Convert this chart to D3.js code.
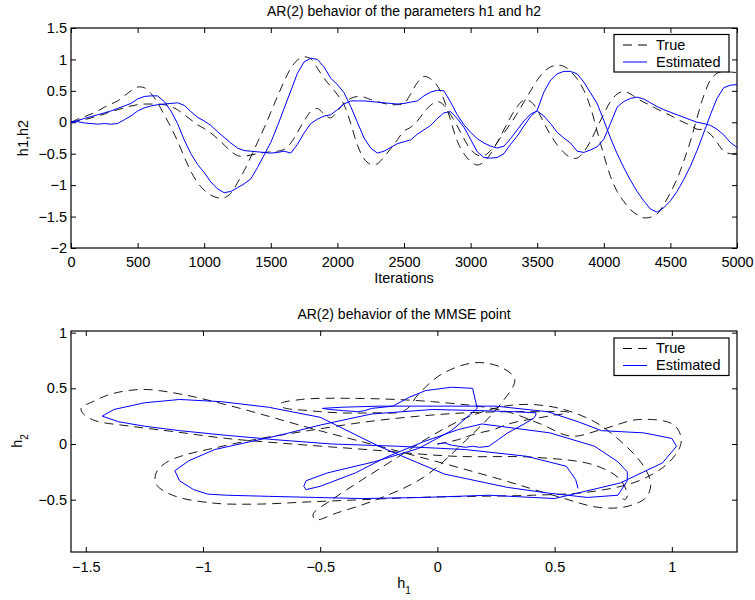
<!DOCTYPE html>
<html>
<head>
<meta charset="utf-8">
<script src="https://cdn.jsdelivr.net/npm/d3@7"></script>
<style>
body { margin: 0; background: #fff; }
text { font-family: "Liberation Sans", Arial, Helvetica, sans-serif; }
</style>
</head>
<body>
<div id="chart"></div>
<script>
// one sample every 50 iterations, 0..5000
let step = 50
let trueH1 = [0, 0.05, 0.09, 0.13, 0.18, 0.24, 0.29, 0.34, 0.42, 0.5,
    0.56, 0.55, 0.46, 0.31, 0.12, -0.08, -0.3, -0.55, -0.78, -0.96,
    -1.08, -1.16, -1.2, -1.2, -1.13, -0.96, -0.77, -0.55, -0.32, -0.09,
    0.16, 0.41, 0.65, 0.86, 0.99, 1.04, 1.01, 0.86, 0.7, 0.57,
    0.44, 0.28, -0.02, -0.36, -0.58, -0.67, -0.66, -0.55, -0.42, -0.28,
    -0.14, -0.08, 0.02, 0.16, 0.27, 0.33, 0.27, 0.12, -0.06, -0.26,
    -0.43, -0.52, -0.53, -0.45, -0.32, -0.17, -0.02, 0.14, 0.32, 0.5,
    0.67, 0.8, 0.88, 0.91, 0.89, 0.81, 0.69, 0.51, 0.24, -0.14,
    -0.52, -0.86, -1.1, -1.26, -1.39, -1.47, -1.52, -1.51, -1.46, -1.31,
    -1.12, -0.9, -0.62, -0.3, 0.07, 0.42, 0.67, 0.78, 0.81, 0.8,
    0.79]
let trueH2 = [0, 0.02, 0.04, 0.07, 0.1, 0.13, 0.17, 0.2, 0.23, 0.26,
    0.28, 0.29, 0.29, 0.29, 0.28, 0.25, 0.2, 0.12, 0.04, -0.04,
    -0.1, -0.17, -0.26, -0.36, -0.46, -0.53, -0.54, -0.52, -0.5, -0.48,
    -0.47, -0.46, -0.43, -0.33, -0.16, 0.02, 0.17, 0.22, 0.13, 0.07,
    0.18, 0.3, 0.38, 0.41, 0.4, 0.36, 0.33, 0.3, 0.28, 0.28,
    0.3, 0.45, 0.63, 0.73, 0.69, 0.58, 0.36, 0.03, -0.3, -0.5,
    -0.62, -0.68, -0.63, -0.5, -0.32, -0.12, 0.08, 0.25, 0.35, 0.33,
    0.2, -0.01, -0.2, -0.36, -0.48, -0.56, -0.57, -0.47, -0.3, -0.08,
    0.13, 0.33, 0.45, 0.49, 0.45, 0.38, 0.32, 0.27, 0.21, 0.16,
    0.11, 0.05, 0, -0.05, -0.11, -0.12, -0.19, -0.32, -0.46, -0.5,
    -0.49]
let estH1 = [0, 0.03, 0.06, 0.09, 0.12, 0.15, 0.18, 0.22, 0.26, 0.3,
    0.37, 0.41, 0.42, 0.42, 0.33, 0.18, -0.02, -0.28, -0.5, -0.67,
    -0.8, -0.95, -1.06, -1.12, -1.1, -1.04, -0.98, -0.9, -0.72, -0.52,
    -0.32, -0.06, 0.22, 0.5, 0.78, 0.96, 1.02, 1.0, 0.88, 0.7,
    0.6, 0.47, 0.25, 0, -0.25, -0.41, -0.49, -0.46, -0.4, -0.34,
    -0.31, -0.28, -0.19, -0.12, -0.05, 0.06, 0.15, 0.17, 0.06, -0.08,
    -0.27, -0.47, -0.56, -0.57, -0.56, -0.5, -0.35, -0.22, -0.06, 0.09,
    0.19, 0.48, 0.67, 0.77, 0.81, 0.81, 0.77, 0.64, 0.47, 0.3,
    0.03, -0.25, -0.5, -0.72, -0.92, -1.1, -1.25, -1.38, -1.43, -1.36,
    -1.25, -1.1, -0.91, -0.7, -0.45, -0.17, 0.12, 0.38, 0.55, 0.59,
    0.6]
let estH2 = [0, 0.01, -0.01, -0.02, -0.03, -0.02, -0.03, -0.02, 0.04, 0.1,
    0.18, 0.23, 0.26, 0.28, 0.29, 0.3, 0.31, 0.27, 0.17, 0.08,
    0.02, -0.05, -0.15, -0.24, -0.33, -0.41, -0.45, -0.46, -0.47, -0.48,
    -0.49, -0.48, -0.46, -0.49, -0.35, -0.17, -0.02, 0.05, 0.1, 0.12,
    0.2, 0.29, 0.34, 0.34, 0.34, 0.33, 0.32, 0.31, 0.3, 0.29,
    0.3, 0.32, 0.34, 0.42, 0.48, 0.51, 0.5, 0.32, 0.12, -0.04,
    -0.16, -0.26, -0.33, -0.38, -0.41, -0.38, -0.26, -0.12, 0.02, 0.13,
    0.18, 0.1, -0.02, -0.16, -0.25, -0.33, -0.46, -0.48, -0.44, -0.39,
    -0.27, -0.02, 0.24, 0.33, 0.38, 0.4, 0.37, 0.31, 0.25, 0.2,
    0.16, 0.12, 0.08, 0.04, 0, -0.02, -0.05, -0.11, -0.2, -0.32,
    -0.4]

let iterTicks = [0, 500, 1000, 1500, 2000, 2500, 3000, 3500, 4000, 4500, 5000]
let hTicks = [-2, -1.5, -1, -0.5, 0, 0.5, 1, 1.5]
let h1Ticks = [-1.5, -1, -0.5, 0, 0.5, 1]
let h2Ticks = [-0.5, 0, 0.5, 1]
let legendNames = ["True", "Estimated"]

var FONT = 14.5
var DASH = "9,6"
var BLUE = "#0000ff"

var svg = d3.select("#chart")
  .append("svg")
  .attr("width", 755)
  .attr("height", 600)

var x_top = d3.scaleLinear().domain([0, 5000]).range([71, 737])
var y_top = d3.scaleLinear().domain([-2, 1.5]).range([248, 28])
var x_bot = d3.scaleLinear().domain([-1.563, 1.278]).range([71, 737])
var y_bot = d3.scaleLinear().domain([-0.97, 1.015]).range([552, 331])

// matlab style box: ticks pointing in on all four sides
function draw_axes(x, y, xt, yt, pad){
    let x0 = x.range()[0], x1 = x.range()[1]
    let y0 = y.range()[1], y1 = y.range()[0]
    let fmt = d3.format("~g")
    let axes = [
        [d3.axisBottom(x).tickValues(xt).tickPadding(pad).tickFormat(fmt), 0, y1],
        [d3.axisLeft(y).tickValues(yt).tickPadding(4).tickFormat(fmt), x0, 0],
        [d3.axisTop(x).tickValues(xt).tickFormat(""), 0, y0],
        [d3.axisRight(y).tickValues(yt).tickFormat(""), x1, 0]
    ]
    axes.forEach(function(a){
        let g = svg.append("g")
            .attr("transform", "translate(" + a[1] + "," + a[2] + ")")
            .call(a[0].tickSizeInner(-5).tickSizeOuter(0))
        g.select(".domain").remove()
        g.selectAll("line").attr("stroke", "#000")
        g.selectAll("text")
            .attr("fill", "#000")
            .style("font-size", FONT + "px")
            .style("font-family", "'Liberation Sans', Arial, sans-serif")
    })
    svg.append("rect")
        .attr("x", x0).attr("y", y0)
        .attr("width", x1 - x0).attr("height", y1 - y0)
        .attr("fill", "none")
        .attr("stroke", "#000")
        .attr("stroke-width", 1.2)
}

function draw_legend(top){
    let g = svg.append("g").attr("transform", "translate(614," + top + ")")
    g.append("rect")
        .attr("width", 115).attr("height", 37.5)
        .attr("fill", "#fff")
        .attr("stroke", "#000")
        .attr("stroke-width", 1.2)
    legendNames.forEach(function(name, i){
        g.append("line")
            .attr("x1", 9).attr("x2", 33)
            .attr("y1", 10.5 + i * 17).attr("y2", 10.5 + i * 17)
            .attr("stroke", i == 0 ? "#000" : BLUE)
            .attr("stroke-width", 1)
            .attr("stroke-dasharray", i == 0 ? DASH : null)
        g.append("text")
            .attr("x", 42).attr("y", 15 + i * 17)
            .style("font-size", FONT + "px")
            .text(name)
    })
}

function title(txt, y){
    svg.append("text")
        .attr("x", 404).attr("y", y)
        .attr("text-anchor", "middle")
        .style("font-size", "14px")
        .text(txt)
}

// ---------- top: h1 and h2 over the iterations
draw_axes(x_top, y_top, iterTicks, hTicks, 8.5)

var line_top = d3.line()
    .x(function(d, i){ return x_top(i * step) })
    .y(function(d){ return y_top(d) })

;[trueH1, trueH2].forEach(function(s){
    svg.append("path")
        .attr("d", line_top.curve(d3.curveCatmullRom)(s))
        .attr("fill", "none")
        .attr("stroke", "#000")
        .attr("stroke-width", 0.9)
        .attr("stroke-dasharray", DASH)
})
;[estH1, estH2].forEach(function(s){
    svg.append("path")
        .attr("d", line_top.curve(d3.curveLinear)(s))
        .attr("fill", "none")
        .attr("stroke", BLUE)
        .attr("stroke-width", 1)
})

title("AR(2) behavior of the parameters h1 and h2", 16)
svg.append("text")
    .attr("x", 404).attr("y", 283)
    .attr("text-anchor", "middle")
    .style("font-size", FONT + "px")
    .text("Iterations")
svg.append("text")
    .attr("transform", "translate(28,138) rotate(-90)")
    .attr("text-anchor", "middle")
    .style("font-size", FONT + "px")
    .text("h1,h2")
draw_legend(34.5)

// ---------- bottom: trajectory of the point (h1, h2)
draw_axes(x_bot, y_bot, h1Ticks, h2Ticks, 9.5)

function phase_line(a, b){
    return d3.line()
        .x(function(d, i){ return x_bot(a[i]) })
        .y(function(d, i){ return y_bot(b[i]) })
}

svg.append("path")
    .attr("d", phase_line(trueH1, trueH2).curve(d3.curveCatmullRom)(trueH1))
    .attr("fill", "none")
    .attr("stroke", "#000")
    .attr("stroke-width", 0.9)
    .attr("stroke-dasharray", DASH)
svg.append("path")
    .attr("d", phase_line(estH1, estH2)(estH1))
    .attr("fill", "none")
    .attr("stroke", BLUE)
    .attr("stroke-width", 1)

title("AR(2) behavior of the MMSE point", 319)

var xl = svg.append("text")
    .attr("x", 404).attr("y", 588)
    .attr("text-anchor", "middle")
    .style("font-size", FONT + "px")
xl.append("tspan").text("h")
xl.append("tspan").attr("dy", 6).style("font-size", "10px").text("1")

var yl = svg.append("text")
    .attr("transform", "translate(22,441) rotate(-90)")
    .attr("text-anchor", "middle")
    .style("font-size", FONT + "px")
yl.append("tspan").text("h")
yl.append("tspan").attr("dy", 6).style("font-size", "10px").text("2")

draw_legend(338)
</script>
</body>
</html>
